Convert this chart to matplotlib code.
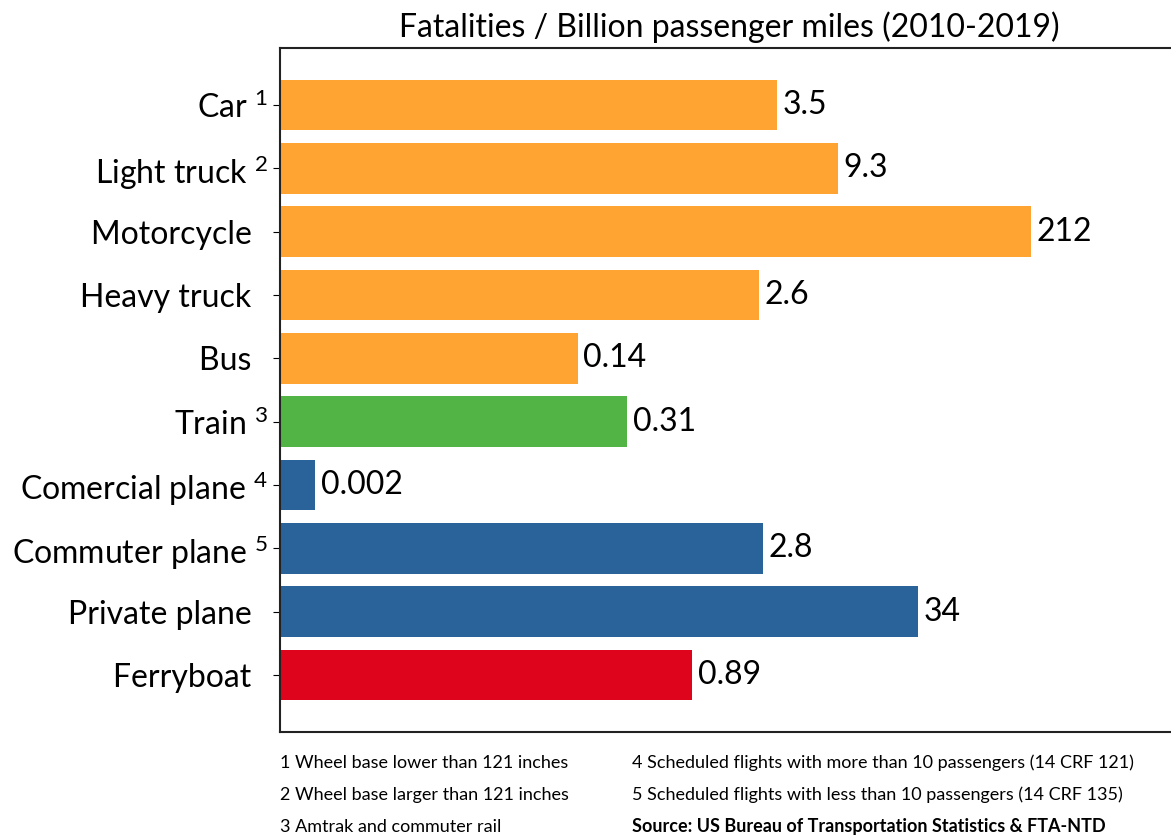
import matplotlib.pyplot as plt

plt.rcParams['font.family'] = ['Lato', 'DejaVu Sans']
plt.rcParams['mathtext.fontset'] = 'custom'
plt.rcParams['mathtext.rm'] = 'Lato'
plt.rcParams['mathtext.it'] = 'Lato'

# datos
etiquetas = ['Car $^{1}$', 'Light truck $^{2}$', 'Motorcycle  ', 'Heavy truck  ', 'Bus  ',
             'Train $^{3}$', 'Comercial plane $^{4}$', 'Commuter plane $^{5}$',
             'Private plane  ', 'Ferryboat  ']
valores = [3.5, 9.3, 212, 2.6, 0.14, 0.31, 0.002, 2.8, 34, 0.89]
textos = ['3.5', '9.3', '212', '2.6', '0.14', '0.31', '0.002', '2.8', '34', '0.89']
colores = ['#ffa332'] * 5 + ['#53b446'] + ['#2a639a'] * 3 + ['#de041c']

notas_izq = ['1 Wheel base lower than 121 inches',
             '2 Wheel base larger than 121 inches',
             '3 Amtrak and commuter rail']
notas_der = ['4 Scheduled flights with more than 10 passengers (14 CRF 121)',
             '5 Scheduled flights with less than 10 passengers (14 CRF 135)',
             'Source: US Bureau of Transportation Statistics & FTA-NTD']

fig = plt.figure(figsize=(11.71, 8.36), dpi=100)
ax = fig.add_axes([0.2391, 0.1244, 0.7669, 0.8182])

pos = range(len(valores))
ax.barh(pos, valores, height=0.8, color=colores)
ax.set_xscale('log')
ax.set_xlim(0.001136, 2280)
ax.set_ylim(9.9, -0.9)

for i, (v, t) in enumerate(zip(valores, textos)):
    ax.annotate(t, (v, i), xytext=(4, 0), textcoords='offset points',
                va='center', ha='left', fontsize=23)

ax.set_yticks(list(pos))
ax.set_yticklabels(etiquetas, fontsize=23)
ax.xaxis.set_visible(False)
ax.minorticks_off()
ax.tick_params(axis='y', length=5)
for lado in ['left', 'top', 'bottom', 'right']:
    ax.spines[lado].set_linewidth(1.5)
    ax.spines[lado].set_color('#222222')
ax.set_title('Fatalities / Billion passenger miles (2010-2019)', fontsize=23, pad=8)

ys = [0.0873, 0.049, 0.0108]
for y, texto in zip(ys, notas_izq):
    fig.text(0.2391, y, texto, fontsize=13, va='center')
for y, texto in zip(ys, notas_der):
    peso = 'bold' if texto.startswith('Source') else 'normal'
    fig.text(0.5397, y, texto, fontsize=13, va='center', fontweight=peso)

fig.savefig('out.png', dpi=100)
